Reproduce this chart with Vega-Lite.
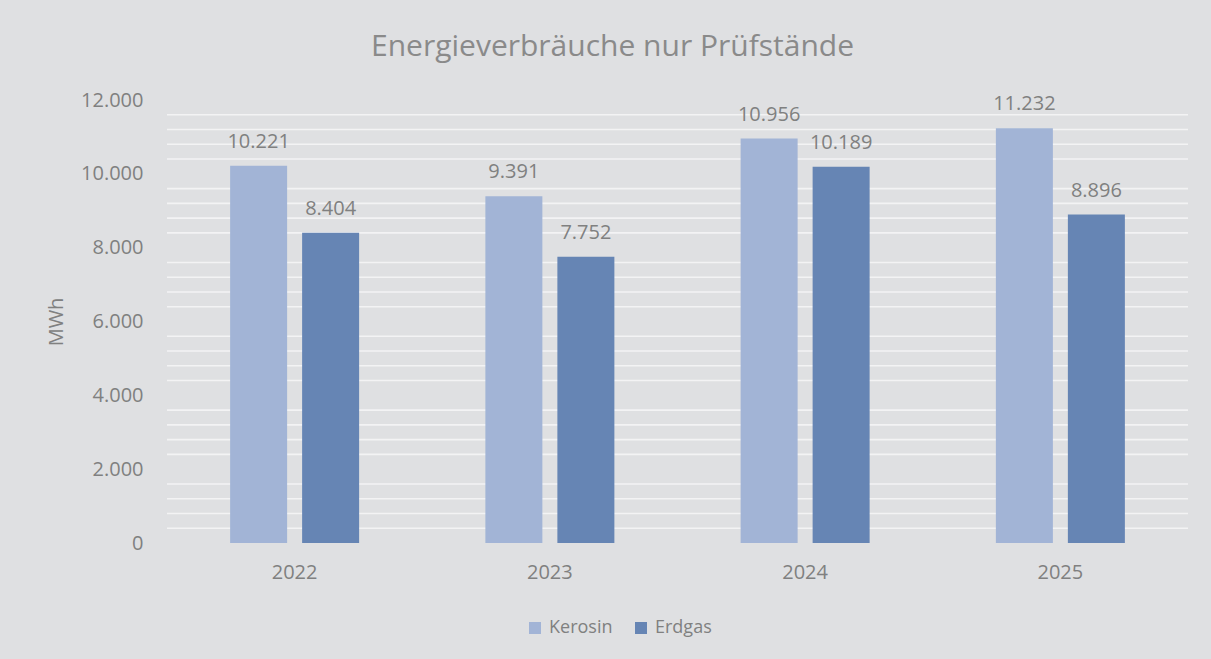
{
  "$schema": "https://vega.github.io/schema/vega-lite/v6.json",
  "width": 1021,
  "height": 443,
  "autosize": {"type": "none"},
  "padding": {"left": 167, "top": 100, "right": 23, "bottom": 116},
  "background": "#dfe0e2",
  "config": {
    "font": "Open Sans",
    "view": {"stroke": null},
    "locale": {"number": {"decimal": ",", "thousands": ".", "grouping": [3], "currency": ["", " €"]}}
  },
  "title": {
    "text": "Energieverbräuche nur Prüfstände",
    "fontSize": 30,
    "fontWeight": "normal",
    "color": "#8a8a8a",
    "anchor": "middle",
    "frame": "group",
    "dx": -65,
    "offset": 28
  },
  "datasets": {
    "bars": [
      {"Jahr": "2022", "Energie": "Kerosin", "MWh": 10221},
      {"Jahr": "2022", "Energie": "Erdgas", "MWh": 8404},
      {"Jahr": "2023", "Energie": "Kerosin", "MWh": 9391},
      {"Jahr": "2023", "Energie": "Erdgas", "MWh": 7752},
      {"Jahr": "2024", "Energie": "Kerosin", "MWh": 10956},
      {"Jahr": "2024", "Energie": "Erdgas", "MWh": 10189},
      {"Jahr": "2025", "Energie": "Kerosin", "MWh": 11232},
      {"Jahr": "2025", "Energie": "Erdgas", "MWh": 8896}
    ],
    "grid": [
      {"v": 400}, {"v": 800}, {"v": 1200}, {"v": 1600},
      {"v": 2400}, {"v": 2800}, {"v": 3200}, {"v": 3600},
      {"v": 4400}, {"v": 4800}, {"v": 5200}, {"v": 5600},
      {"v": 6400}, {"v": 6800}, {"v": 7200}, {"v": 7600},
      {"v": 8400}, {"v": 8800}, {"v": 9200}, {"v": 9600},
      {"v": 10400}, {"v": 10800}, {"v": 11200}, {"v": 11600}
    ]
  },
  "layer": [
    {
      "data": {"name": "grid"},
      "mark": {"type": "rule", "color": "#f3f3f4", "strokeWidth": 1.6},
      "encoding": {
        "y": {
          "field": "v", "type": "quantitative", "scale": {"domain": [0, 12000]},
          "axis": {"title": "MWh", "values": [0, 2000, 4000, 6000, 8000, 10000, 12000], "format": ",d", "grid": false, "domain": false, "ticks": false, "labelPadding": 24, "labelFontSize": 20, "labelColor": "#808080", "titleFontSize": 20, "titleFontWeight": "normal", "titleColor": "#808080", "titlePadding": 14}
        }
      }
    },
    {
      "data": {"name": "bars"},
      "layer": [
        {
          "mark": {"type": "bar"},
          "encoding": {
            "x": {
              "field": "Jahr", "type": "nominal",
              "scale": {"paddingInner": 0.4946, "paddingOuter": 0.2473},
              "axis": {"title": null, "labelAngle": 0, "domain": false, "ticks": false, "labelPadding": 19, "labelFontSize": 20, "labelColor": "#808080"}
            },
            "xOffset": {"field": "Energie", "type": "nominal", "sort": ["Kerosin", "Erdgas"], "scale": {"paddingInner": 0.2083, "paddingOuter": 0}},
            "y": {
              "field": "MWh", "type": "quantitative",
              "scale": {"domain": [0, 12000]},
              "axis": {"title": "MWh", "values": [0, 2000, 4000, 6000, 8000, 10000, 12000], "format": ",d", "grid": false, "domain": false, "ticks": false, "labelPadding": 24, "labelFontSize": 20, "labelColor": "#808080", "titleFontSize": 20, "titleFontWeight": "normal", "titleColor": "#808080", "titlePadding": 14}
            },
            "color": {
              "field": "Energie", "type": "nominal",
              "scale": {"domain": ["Kerosin", "Erdgas"], "range": ["#a2b4d6", "#6685b4"]},
              "legend": {"title": null, "orient": "none", "direction": "horizontal", "legendX": 359, "legendY": 519, "symbolType": "square", "symbolSize": 144, "symbolStrokeWidth": 0, "labelFontSize": 18, "labelColor": "#808080", "labelOffset": 5, "columnPadding": 19}
            }
          }
        },
        {
          "mark": {"type": "text", "fontSize": 20, "color": "#808080", "baseline": "alphabetic", "dy": -18},
          "encoding": {
            "x": {"field": "Jahr", "type": "nominal"},
            "xOffset": {"field": "Energie", "type": "nominal", "sort": ["Kerosin", "Erdgas"]},
            "y": {"field": "MWh", "type": "quantitative"},
            "text": {"field": "MWh", "type": "quantitative", "format": ",d"}
          }
        }
      ]
    }
  ]
}
